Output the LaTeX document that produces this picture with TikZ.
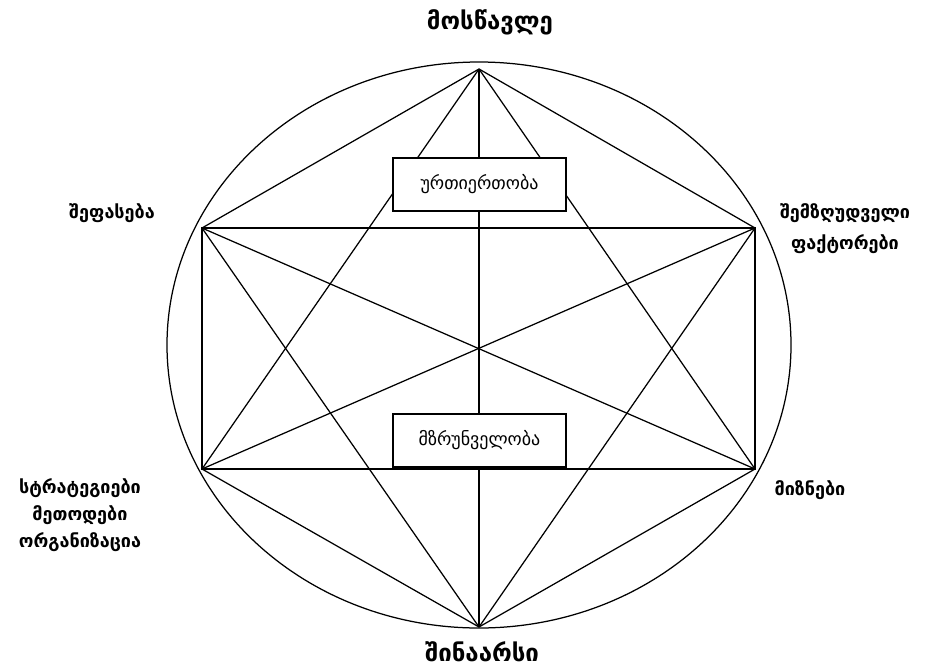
\documentclass[tikz,border=0pt]{standalone}
\usepackage{fontspec}
\newfontfamily\geo{DejaVu Sans}
\newfontfamily\geob{DejaVu Sans Bold}
\usetikzlibrary{positioning}

\begin{document}
\begin{tikzpicture}[
  x=1pt, y=-1pt,
  line/.style={line width=1.25pt},
  box/.style={draw, fill=white, line width=1.25pt, minimum width=173pt, minimum height=53pt, font=\geo\fontsize{18}{20}\selectfont},
  lbl/.style={align=center, font=\geob\fontsize{18}{27}\selectfont},
  big/.style={font=\geob\fontsize{24}{26}\selectfont}
]
\useasboundingbox (0,0) rectangle (925,670);
% corners of the figure
\coordinate (top) at (479,69);
\coordinate (bot) at (479,627);
\coordinate (tl) at (202,228);
\coordinate (tr) at (755,228);
\coordinate (bl) at (202,469);
\coordinate (br) at (755,469);
\coordinate (mid) at (479,345);

\draw[line] (mid) ellipse [x radius=312, y radius=283];
\draw[line] (tl) rectangle (br);
\draw[line] (tl) -- (br);
\draw[line] (bl) -- (tr);
\draw[line] (top) -- (bot);
\draw[line] (top) -- (tl);
\draw[line] (top) -- (tr);
\draw[line] (top) -- (bl);
\draw[line] (top) -- (br);
\draw[line] (bot) -- (tl);
\draw[line] (bot) -- (tr);
\draw[line] (bot) -- (bl);
\draw[line] (bot) -- (br);

\node[box] (rel) at (479.5,184.5) {ურთიერთობა};
\node[box] (care) at (479.5,440.5) {მზრუნველობა};

\node[big] (pupil) at (490,22) {მოსწავლე};
\node[big] (content) at (482,652) {შინაარსი};
\node[lbl] (assess) at (112,213) {შეფასება};
\node[lbl, font=\geob\fontsize{18}{31}\selectfont] (limits) at (845,229) {შემზღუდველი\\ფაქტორები};
\node[lbl] (methods) at (80,515) {სტრატეგიები\\მეთოდები\\ორგანიზაცია};
\node[lbl] (goals) at (810,490) {მიზნები};
\end{tikzpicture}
\end{document}
